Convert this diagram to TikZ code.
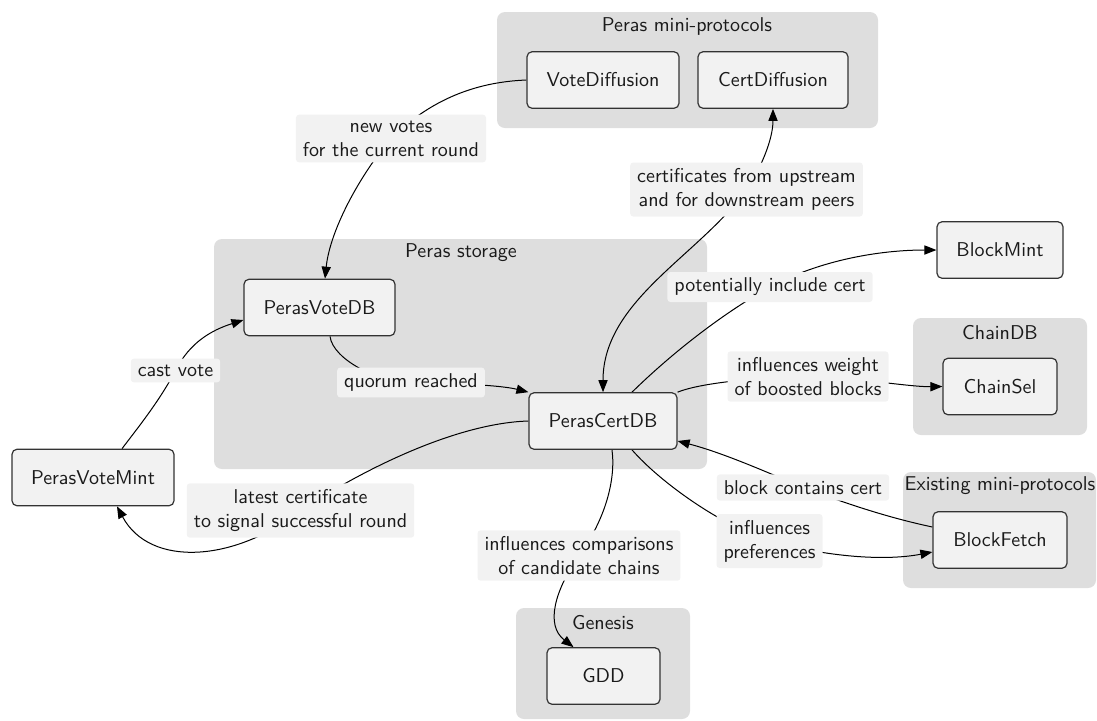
\documentclass[tikz,border=0pt]{standalone}
\usepackage{fontspec}
\usetikzlibrary{arrows.meta,calc}
\pgfdeclarelayer{bg}
\pgfdeclarelayer{edges}
\pgfsetlayers{bg,edges,main}
\definecolor{clusterfill}{HTML}{DEDEDE}
\definecolor{nodefill}{HTML}{F2F2F2}
\definecolor{labelfill}{HTML}{F2F2F2}
\definecolor{txt}{HTML}{1A1A1A}
\tikzset{
  proc/.style={draw=black!80, fill=nodefill, rounded corners=2.5pt, line width=0.6pt,
    minimum height=28.25pt, inner sep=0pt, text=txt, font=\sffamily},
  elabel/.style={fill=labelfill, rounded corners=1.5pt, inner xsep=3.5pt, inner ysep=3pt,
    align=center, text=txt, font=\sffamily},
  cluster/.style={fill=clusterfill, rounded corners=4pt},
  ctitle/.style={text=txt, font=\sffamily, inner sep=0pt},
  edge/.style={draw=black, line width=0.5pt, -{Triangle[length=6pt,width=4.6pt]}},
  biedge/.style={draw=black, line width=0.5pt, {Triangle[length=6pt,width=4.6pt]}-{Triangle[length=6pt,width=4.6pt]}},
}
\begin{document}
\begin{tikzpicture}[x=0.5pt,y=-0.5pt]
\useasboundingbox (0,0) rectangle (1097,720);

\begin{pgfonlayer}{bg}
  \fill[cluster] (497,12) rectangle (878,128);
  \fill[cluster] (214,239) rectangle (707,469);
  \fill[cluster] (913,318) rectangle (1087,435);
  \fill[cluster] (903,472) rectangle (1096,588);
  \fill[cluster] (516,608) rectangle (690,719);
\end{pgfonlayer}

% cluster titles
\node[ctitle] (tmini) at (687,26) {Peras mini-protocols};
\node[ctitle] (tstore) at (461,253) {Peras storage};
\node[ctitle] (tchain) at (1000,333) {ChainDB};
\node[ctitle] (texist) at (1000,486) {Existing mini-protocols};
\node[ctitle] (tgen) at (603,623) {Genesis};

% nodes
\node[proc, minimum width=76pt] (vd) at (603,80) {VoteDiffusion};
\node[proc, minimum width=75pt] (cd) at (773,80) {CertDiffusion};
\node[proc, minimum width=75.5pt] (pvdb) at (319.5,307.5) {PerasVoteDB};
\node[proc, minimum width=74pt] (pcdb) at (603,421) {PerasCertDB};
\node[proc, minimum width=81pt] (pvm) at (93,477.5) {PerasVoteMint};
\node[proc, minimum width=63pt] (bm) at (1000,250) {BlockMint};
\node[proc, minimum width=57pt] (cs) at (1000,386.5) {ChainSel};
\node[proc, minimum width=67pt] (bf) at (1000,540) {BlockFetch};
\node[proc, minimum width=56.5pt] (gdd) at (603.5,676) {GDD};

% edge labels
\node[elabel] (lnew) at (391,138.5) {new votes\\for the current round};
\node[elabel] (lcast) at (175.5,370.5) {cast vote};
\node[elabel] (lquorum) at (411,382.5) {quorum reached};
\node[elabel] (lcerts) at (746.5,189.5) {certificates from upstream\\and for downstream peers};
\node[elabel] (lpot) at (770,287) {potentially include cert};
\node[elabel] (lweight) at (808,376.5) {influences weight\\of boosted blocks};
\node[elabel] (llatest) at (300.5,510.5) {latest certificate\\to signal successful round};
\node[elabel] (lcomp) at (579,555.5) {influences comparisons\\of candidate chains};
\node[elabel] (lblock) at (803,487.5) {block contains cert};
\node[elabel] (lpref) at (769.5,541) {influences\\preferences};

\begin{pgfonlayer}{edges}
  \draw[edge] (vd.west) .. controls (475,82) and (430,100) .. (lnew.center)
     .. controls (360,175) and (330,230) .. ($(pvdb.north)+(5.5,0)$);
  \draw[biedge] (cd.south) .. controls (773,140) and (760,170) .. (lcerts.center)
     .. controls (700,255) and (603,300) .. (pcdb.north);
  \draw[edge] ($(pvm.north)+(29,0)$) .. controls (140,425) and (160,400) .. (lcast.center)
     .. controls (190,342) and (212,330) .. ($(pvdb.west)+(0,12.5)$);
  \draw[edge] ($(pvdb.south)+(10.5,0)$) .. controls (333,360) and (380,383) .. (lquorum.center)
     .. controls (450,383) and (500,385) .. (pcdb.north west);
  \draw[edge] (pcdb.west) .. controls (460,423) and (370,465) .. (llatest.center)
     .. controls (235,562) and (150,568) .. ($(pvm.south)+(24,0)$);
  \draw[edge] ($(pcdb.north)+(29,0)$) .. controls (670,355) and (720,315) .. (lpot.center)
     .. controls (820,260) and (880,250) .. (bm.west);
  \draw[edge] (pcdb.north east) .. controls (695,385) and (740,378) .. (lweight.center)
     .. controls (860,378) and (910,387) .. (cs.west);
  \draw[edge] ($(bf.west)+(0,-13)$) .. controls (890,518) and (850,505) .. (lblock.center)
     .. controls (760,469) and (720,452) .. ($(pcdb.east)+(0,20)$);
  \draw[edge] ($(pcdb.south)+(29,0)$) .. controls (660,482) and (720,525) .. (lpref.center)
     .. controls (820,555) and (880,562) .. ($(bf.west)+(0,12)$);
  \draw[edge] ($(pcdb.south)+(9,0)$) .. controls (616,480) and (605,520) .. (lcomp.center)
     .. controls (555,590) and (545,625) .. ($(gdd.north)+(-30,0)$);
\end{pgfonlayer}
\end{tikzpicture}
\end{document}
